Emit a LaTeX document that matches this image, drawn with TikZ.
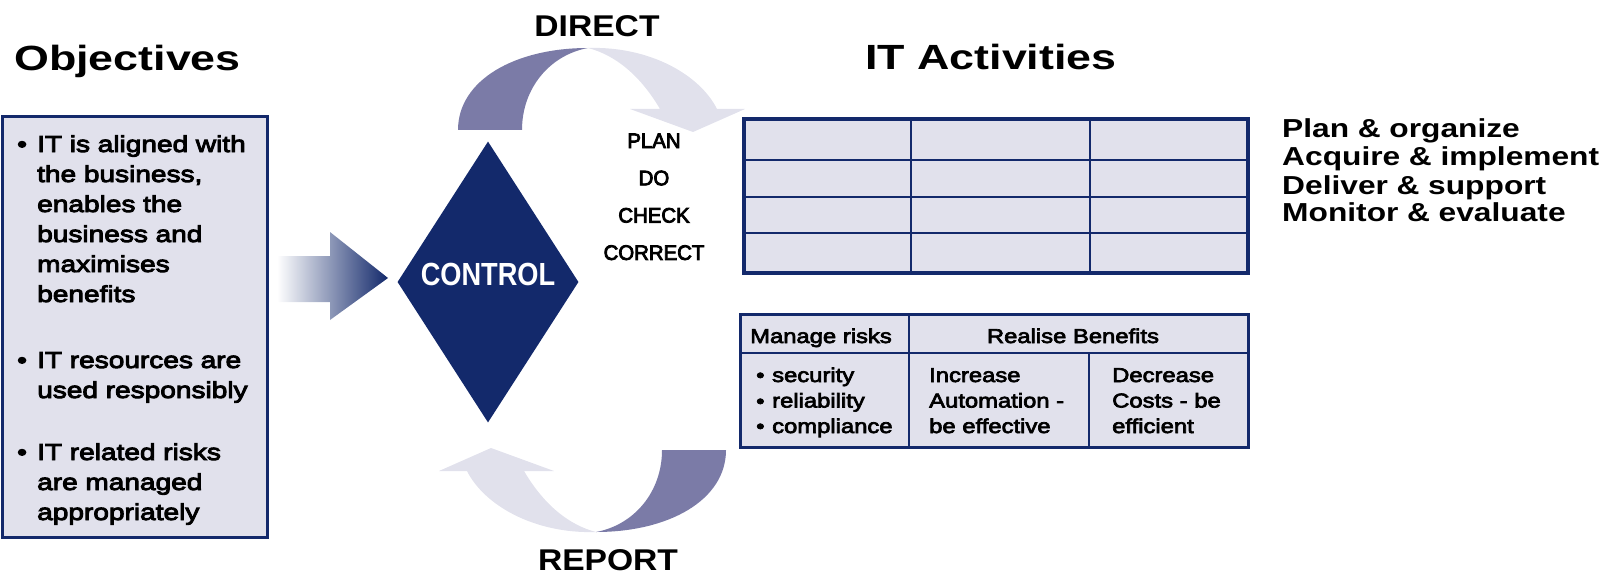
\documentclass[tikz,border=0pt]{standalone}
\usepackage{fontspec}
\setmainfont{Liberation Sans}
\newfontfamily\titlefont[FakeStretch=1.28]{Liberation Sans}
\newfontfamily\listfont[FakeStretch=1.22]{Liberation Sans}
\newfontfamily\boxfont[FakeStretch=1.22,FakeBold=4]{Liberation Sans}
\newfontfamily\cellfont[FakeStretch=1.19,FakeBold=3.5]{Liberation Sans}
\newfontfamily\pdcafont[FakeStretch=0.97,FakeBold=4]{Liberation Sans}
\newfontfamily\loopfont[FakeStretch=1.12]{Liberation Sans}
\newfontfamily\ctrlfont[FakeStretch=0.85]{Liberation Sans}
\usetikzlibrary{shapes.geometric}

\definecolor{navy}{RGB}{19,41,107}
\definecolor{pale}{RGB}{225,225,236}
\definecolor{dusk}{RGB}{123,123,167}

\begin{document}
\begin{tikzpicture}[x=1pt,y=-1pt]
  \useasboundingbox (0,0) rectangle (1621,575);

  % objectives box and control
  \node (obj) [draw=navy, line width=3pt, fill=pale, inner sep=0pt,
    minimum width=265pt, minimum height=420pt] at (134.5,327) {};
  \path[left color=white, right color=navy]
    (277,256) -- (330,256) -- (330,232) -- (388,278) -- (330,320)
    -- (330,302) -- (277,302) -- cycle;
  \node (ctrl) [diamond, fill=navy, inner sep=0pt,
    minimum width=181pt, minimum height=281pt] at (488,282) {};

  % direct / report loop
  \foreach \ang in {0,180} {
    \begin{scope}[rotate around={\ang:(592,290)}]
      \fill[dusk] (458,130) .. controls (458,80) and (515,48) .. (588,48)
        .. controls (550,55) and (522,88) .. (522,130) -- cycle;
      \fill[pale] (588,48) .. controls (650,46) and (700,75) .. (717,109)
        -- (745,109) -- (693,132) -- (630,109) -- (660,109)
        .. controls (640,75) and (615,55) .. (588,48) -- cycle;
    \end{scope}
  }

  % IT activities grid
  \draw[navy, line width=3.5pt, fill=pale] (744,119) rectangle (1248,273);
  \foreach \y in {160,197,233}
    \draw[navy, line width=1.8pt] (744,\y) -- (1248,\y);
  \foreach \x in {911,1090}
    \draw[navy, line width=1.8pt] (\x,119) -- (\x,273);
  \draw[navy, line width=3.5pt] (744,119) rectangle (1248,273);

  % risks and benefits table
  \draw[navy, line width=3pt, fill=pale] (740,314) rectangle (1248,447);
  \draw[navy, line width=1.8pt] (740,353) -- (1248,353);
  \draw[navy, line width=1.8pt] (909,314) -- (909,447);
  \draw[navy, line width=1.8pt] (1089,353) -- (1089,447);
  \draw[navy, line width=3pt] (740,314) rectangle (1248,447);

  \begin{scope}[every node/.style={inner sep=0pt, anchor=base west}]
    \node (t1) at (14,71) {\titlefont\bfseries\fontsize{35}{40}\selectfont Objectives};
    \node (t2) at (865,70) {\titlefont\bfseries\fontsize{35}{40}\selectfont IT Activities};
    \node (acts) [text width=340pt, align=left,
      font=\listfont\bfseries\fontsize{26}{28}\selectfont] at (1282,138)
      {Plan \& organize\\Acquire \& implement\\Deliver \& support\\Monitor \& evaluate};
  \end{scope}

  \begin{scope}[every node/.style={inner sep=0pt, anchor=base west,
      text width=240pt, align=left, font=\boxfont\fontsize{23}{30}\selectfont}]
    \foreach \y in {152,368,460}
      \node at (17,\y) {•};
    \node (b1) at (37,152) {IT is aligned with\\the business,\\enables the\\business and\\maximises\\benefits};
    \node (b2) at (37,368) {IT resources are\\used responsibly};
    \node (b3) at (37,460) {IT related risks\\are managed\\appropriately};
  \end{scope}

  \begin{scope}[every node/.style={inner sep=0pt, anchor=base west,
      text width=170pt, align=left, font=\cellfont\fontsize{20}{25.5}\selectfont}]
    \node (mr) [anchor=base, align=center] at (821,343) {Manage risks};
    \node (rb) [anchor=base, align=center, text width=300pt] at (1073,343) {Realise Benefits};
    \foreach \y in {382,408,433}
      \node at (756,\y) {•};
    \node (rk) at (772,382) {security\\reliability\\compliance};
    \node (inc) at (929,382) {Increase\\Automation -\\be effective};
    \node (dec) at (1112,382) {Decrease\\Costs - be\\efficient};
  \end{scope}

  \begin{scope}[every node/.style={inner sep=0pt, anchor=base}]
    \node (dir) at (597,37) {\loopfont\bfseries\fontsize{30}{34}\selectfont DIRECT};
    \node (rep) at (608,570) {\loopfont\bfseries\fontsize{30}{34}\selectfont REPORT};
    \node (ctl) [text=white] at (488,285) {\ctrlfont\bfseries\fontsize{32}{36}\selectfont CONTROL};
    \node (pdca) [text width=130pt, align=center, font=\pdcafont\fontsize{21}{37.3}\selectfont]
      at (654,148) {PLAN\\DO\\CHECK\\CORRECT};
  \end{scope}

\end{tikzpicture}
\end{document}
